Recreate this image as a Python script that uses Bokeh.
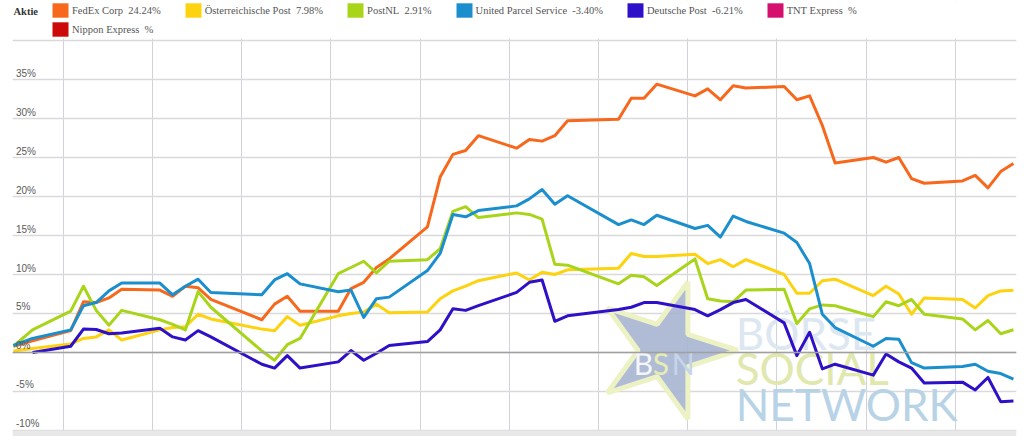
import math
from bokeh.plotting import figure
from bokeh.models import (Grid, FixedTicker, Legend, LegendItem, BoxAnnotation,
                          Span, Label, Range1d)
from bokeh.embed import file_html
from bokeh.resources import INLINE
from bokeh.core.properties import value

# ---------------- data (percent change, trading days) ----------------
days = [-1.5, 0, 3, 4, 5, 6, 7, 10, 11, 12, 13, 14, 18, 19, 20, 21,
        24, 25, 26, 27, 28, 31, 32, 33, 34, 35, 38, 39, 40, 41, 42,
        46, 47, 48, 49, 52, 53, 54, 55, 56, 59, 60, 61, 62, 63,
        66, 67, 68, 69, 70, 73, 74, 75, 76, 77]

fedex = [0.8, 1.5, 2.8, 6.5, 6.4, 7.0, 8.1, 8.0, 7.2, 8.5, 8.3, 6.8, 4.2, 6.2, 7.2, 5.3,
         5.3, 8.2, 9.0, 10.9, 12.0, 16.1, 22.5, 25.4, 25.9, 27.8, 26.2, 27.3, 27.1, 27.8, 29.7,
         29.9, 32.6, 32.6, 34.4, 32.9, 33.8, 32.4, 34.2, 33.9, 34.1, 32.4, 32.9, 29.1, 24.3,
         25.0, 24.4, 25.0, 22.3, 21.7, 22.0, 22.7, 21.1, 23.2, 24.24]

opost = [0.2, 0.5, 1.1, 1.8, 2.0, 2.9, 1.6, 2.9, 3.2, 3.3, 4.9, 4.3, 3.0, 2.8, 4.6, 3.5,
         4.7, 5.0, 5.2, 6.2, 5.1, 5.2, 6.9, 7.9, 8.5, 9.2, 10.2, 9.3, 10.3, 10.0, 10.6,
         10.8, 12.7, 12.3, 12.3, 12.6, 11.4, 11.9, 11.0, 11.9, 10.0, 7.6, 7.6, 9.2, 9.4,
         7.3, 8.5, 7.5, 4.9, 7.0, 6.8, 5.7, 7.3, 7.9, 7.98]

postnl = [0.8, 2.9, 5.3, 8.5, 5.4, 3.5, 5.4, 4.2, 3.6, 2.9, 7.8, 5.8, 0.2, -1.0, 1.0, 1.8,
          10.1, 10.9, 11.7, 10.2, 11.7, 11.9, 13.3, 18.1, 18.7, 17.3, 17.9, 17.7, 17.1, 11.3, 11.2,
          8.8, 9.9, 9.7, 8.6, 12.0, 6.9, 6.6, 6.5, 8.0, 8.1, 3.7, 5.6, 6.1, 6.0,
          4.6, 6.5, 6.0, 6.8, 4.9, 4.3, 2.9, 4.1, 2.4, 2.91]

ups = [0.9, 1.8, 2.9, 6.0, 6.4, 7.9, 8.9, 8.9, 7.4, 8.5, 9.4, 7.7, 7.4, 9.3, 10.1, 8.8,
       7.8, 8.0, 4.5, 6.9, 7.1, 10.5, 12.7, 17.7, 17.4, 18.2, 18.8, 19.7, 20.9, 19.0, 20.1,
       16.4, 17.0, 16.4, 17.6, 15.9, 16.3, 14.8, 17.5, 16.8, 15.3, 14.1, 11.4, 4.9, 3.2,
       0.8, 1.8, 1.7, -1.3, -2.0, -1.8, -1.5, -2.4, -2.7, -3.40]

# Deutsche Post starts one point later (at day 0)
dpost = [0.0, 0.8, 3.0, 2.95, 2.4, 2.5, 3.1, 2.0, 1.6, 2.8, 2.0, -1.5, -2.0, -0.4, -2.0,
         -1.2, 0.25, -1.0, -0.1, 0.9, 1.4, 2.9, 5.6, 5.4, 6.0, 7.7, 9.0, 9.3, 4.0, 4.7,
         5.5, 5.8, 6.4, 6.4, 5.5, 4.7, 5.5, 6.4, 6.8, 3.8, -0.4, 2.6, -2.1, -1.5,
         -2.9, -0.2, -1.2, -2.0, -3.9, -3.8, -4.8, -3.2, -6.3, -6.21]

names = ["FedEx Corp", "Österreichische Post", "PostNL", "United Parcel Service",
         "Deutsche Post", "TNT Express", "Nippon Express"]
finals = ["24.24%", "7.98%", "2.91%", "-3.40%", "-6.21%", "%", "%"]
colors = ["#f7681c", "#fdd20e", "#a8d41a", "#1b8fce", "#2d10c8", "#d40f6e", "#cc0a0a"]

y_ticks = [-10, -5, 0, 5, 10, 15, 20, 25, 30, 35, 40]
y_tick_labels = ["-10%", "-5%", "0%", "5%", "10%", "15%", "20%", "25%", "30%", "35%", ""]
week_lines = [2.43 + 7 * k for k in range(11)]

# ---------------- figure ----------------
W, H = 1020, 436
p = figure(width=W, height=H, output_backend="svg", toolbar_location=None,
           x_axis_location=None, y_axis_location=None,
           x_range=Range1d(-1.57, 77.24), y_range=Range1d(-10.77, 45.13),
           min_border=0, min_border_left=12, min_border_right=4,
           outline_line_color=None, background_fill_color="white")
# drop the default grids that figure() creates
p.center = [r for r in p.center if not isinstance(r, Grid)]

p.add_layout(Grid(dimension=0, ticker=FixedTicker(ticks=week_lines),
                  grid_line_color="#d2d2da", grid_line_width=1))
p.add_layout(Grid(dimension=1, ticker=FixedTicker(ticks=y_ticks),
                  grid_line_color="#d9d9d9", grid_line_width=1.6))
p.add_layout(Span(location=0, dimension="width", line_color="#a0a0a0", line_width=1.5))

# watermark (BSN star + text)
p.scatter(x=[49.7], y=[0.26], marker="star", size=144, angle=3 * math.pi / 10,
          fill_color="#a7b5d0", fill_alpha=0.9, line_color="#edf2c4", line_width=5)
p.text(x=[47.2] * 3, y=[-1.3] * 3, text=["B", "S", "N"], x_offset=[0, 19, 38],
       text_color=["#f4f6fa", "#e6edb4", "#c6d5ea"], text_font=value("Lato"),
       text_font_size="30px", text_baseline="alphabetic")
p.text(x=[55.2] * 3, y=[2.56, -2.05, -6.54], text=["BÖRSE", "SOCIAL", "NETWORK"],
       text_color=["#dce7f1", "#e0e8ae", "#b9d3e6"], text_font=value("Lato"),
       text_font_size="44px", text_baseline="alphabetic")

# series lines
series = [fedex, opost, postnl, ups, dpost]
for vals, c in zip(series, colors[:5]):
    xs = days if len(vals) == len(days) else days[len(days) - len(vals):]
    p.line(x=xs, y=vals, line_color=c, line_width=3, line_join="round")

# masks: header area and bottom scrollbar
p.add_layout(BoxAnnotation(bottom=40.25, fill_color="white", fill_alpha=1, line_alpha=0))
p.add_layout(BoxAnnotation(top=-10, fill_color="#e8e8e8", fill_alpha=1, line_alpha=0))

# y tick labels drawn inside the plot
for t, lab in zip(y_ticks, y_tick_labels):
    if lab:
        p.add_layout(Label(x=3.5, x_units="screen", y=t, y_units="data", text=lab,
                           y_offset=1, text_baseline="bottom",
                           text_font="Liberation Sans", text_font_size="10px",
                           text_color="#5a5a5a"))

# legend swatches (renderers with one invisible, non-finite datum so the key is drawn)
nan = float("nan")
swatches = [p.quad(left=[nan], right=[nan], top=[nan], bottom=[nan],
                   fill_color=c, line_color=None) for c in colors]
labels = [f"{n}\u00a0 {f}" for n, f in zip(names, finals)]

common = dict(orientation="horizontal", glyph_width=20, glyph_height=18,
              label_standoff=2, spacing=22, padding=0, margin=0,
              label_text_font="Liberation Serif", label_text_font_size="10.5px",
              label_text_color="#555555", background_fill_alpha=0,
              border_line_alpha=0, label_height=18)
leg1 = Legend(items=[LegendItem(label=l, renderers=[s]) for l, s in zip(labels[:6], swatches[:6])],
              location=(38, H - 19), **common)
leg2 = Legend(items=[LegendItem(label=labels[6], renderers=[swatches[6]])],
              location=(38, H - 38), **common)
p.add_layout(leg1)
p.add_layout(leg2)
p.add_layout(Label(x=1, x_units="screen", y=H - 11, y_units="screen", text="Aktie",
                   text_baseline="middle", text_font="Liberation Serif",
                   text_font_size="10.5px", text_font_style="bold", text_color="#333333"))

open("out.html", "w").write(file_html(p, INLINE))
